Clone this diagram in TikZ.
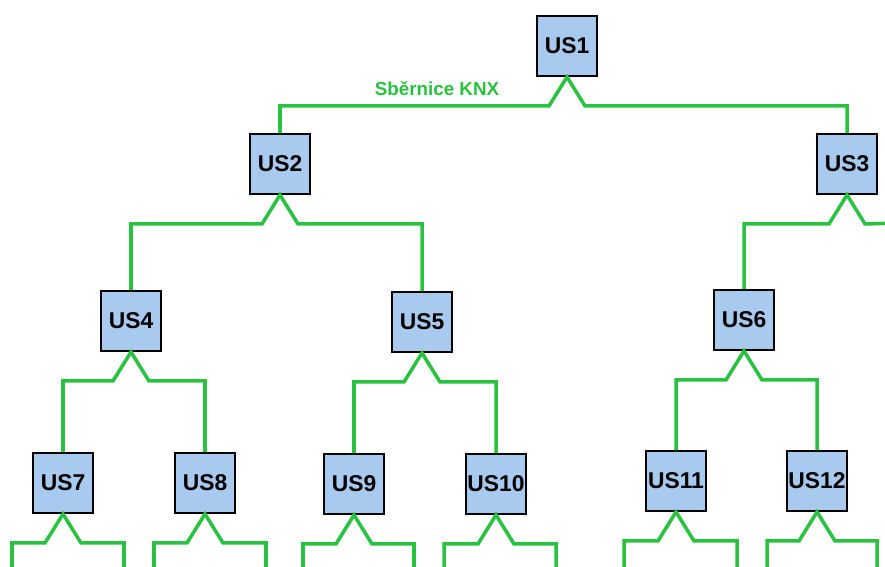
\documentclass[tikz,border=0pt]{standalone}
\usepackage{fontspec}
\setmainfont{Liberation Sans}
\usetikzlibrary{calc}

\definecolor{busgreen}{RGB}{41,194,64}
\definecolor{usblue}{RGB}{168,202,238}

\tikzset{
    usbox/.style={rectangle, draw=black, line width=1.1pt, fill=usblue,
        minimum size=1.2cm, inner sep=0pt, font=\fontsize{13}{15}\selectfont\bfseries},
    bus/.style={draw=busgreen, line width=2pt, line join=miter},
    buslabel/.style={text=busgreen, font=\fontsize{10.7}{12}\selectfont\bfseries, inner sep=0pt}
}

\begin{document}
\begin{tikzpicture}[x=0.02cm, y=-0.02cm]
    \clip (0,0) rectangle (885,566);
    \node[usbox] (US1)  at (567,46)  {US1};
    \node[usbox] (US2)  at (280,164) {US2};
    \node[usbox] (US3)  at (847,164) {US3};
    \node[usbox] (US4)  at (131,321) {US4};
    \node[usbox] (US5)  at (422,322) {US5};
    \node[usbox] (US6)  at (744,320) {US6};
    \node[usbox] (US7)  at (63,483)  {US7};
    \node[usbox] (US8)  at (205,483) {US8};
    \node[usbox] (US9)  at (354,484) {US9};
    \node[usbox] (US10) at (496,484) {US10};
    \node[usbox] (US11) at (676,481) {US11};
    \node[usbox] (US12) at (817,481) {US12};
    \node[buslabel] (knx) at (437,89) {Sběrnice KNX};

    % free ends of the bus
    \coordinate (r3)  at (900,223);
    \coordinate (l7)  at (12,580);   \coordinate (r7)  at (124,580);
    \coordinate (l8)  at (154,580);  \coordinate (r8)  at (266,580);
    \coordinate (l9)  at (303,580);  \coordinate (r9)  at (414,580);
    \coordinate (l10) at (444,580);  \coordinate (r10) at (556,580);
    \coordinate (l11) at (624,580);  \coordinate (r11) at (737,580);
    \coordinate (l12) at (767,580);  \coordinate (r12) at (877,580);

    % bus lines
    \draw[bus] (US2.north) |- ($(US1.south)+(-18,29)$) -- (US1.south) -- ++(18,29) -| (US3.north);
    \draw[bus] (US4.north) |- ($(US2.south)+(-18,29)$) -- (US2.south) -- ++(18,29) -| (US5.north);
    \draw[bus] (US6.north) |- ($(US3.south)+(-18,29)$) -- (US3.south) -- ++(18,29) -- (r3);
    \draw[bus] (US7.north) |- ($(US4.south)+(-18,29)$) -- (US4.south) -- ++(18,29) -| (US8.north);
    \draw[bus] (US9.north) |- ($(US5.south)+(-18,29)$) -- (US5.south) -- ++(18,29) -| (US10.north);
    \draw[bus] (US11.north) |- ($(US6.south)+(-18,29)$) -- (US6.south) -- ++(18,29) -| (US12.north);
    \draw[bus] (l7) |- ($(US7.south)+(-18,29)$) -- (US7.south) -- ++(18,29) -| (r7);
    \draw[bus] (l8) |- ($(US8.south)+(-18,29)$) -- (US8.south) -- ++(18,29) -| (r8);
    \draw[bus] (l9) |- ($(US9.south)+(-18,29)$) -- (US9.south) -- ++(18,29) -| (r9);
    \draw[bus] (l10) |- ($(US10.south)+(-18,29)$) -- (US10.south) -- ++(18,29) -| (r10);
    \draw[bus] (l11) |- ($(US11.south)+(-18,29)$) -- (US11.south) -- ++(18,29) -| (r11);
    \draw[bus] (l12) |- ($(US12.south)+(-18,29)$) -- (US12.south) -- ++(18,29) -| (r12);
\end{tikzpicture}
\end{document}
